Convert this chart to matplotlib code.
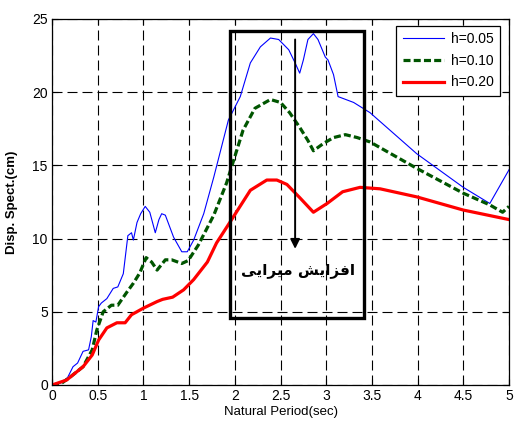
import matplotlib
matplotlib.use("Agg")
import matplotlib.pyplot as plt
from matplotlib.patches import Rectangle

plt.rcParams['font.family'] = ['Liberation Sans', 'DejaVu Sans']

# -------------------------------
# Data
# -------------------------------
x_005 = [0, 0.1, 0.17, 0.23, 0.28, 0.34, 0.40, 0.43, 0.45, 0.48, 0.51, 0.54, 0.6,
         0.67, 0.72, 0.78, 0.83, 0.87, 0.89, 0.93, 0.97, 1.02, 1.07, 1.13, 1.17,
         1.2, 1.24, 1.33, 1.42, 1.48, 1.55, 1.66, 1.77, 1.93, 2.06, 2.17, 2.28,
         2.39, 2.48, 2.59, 2.66, 2.71, 2.75, 2.80, 2.86, 2.91, 2.99, 3.02, 3.08,
         3.13, 3.30, 3.48, 3.99, 4.50, 4.79, 5.0]
y_005 = [0, 0.15, 0.5, 1.25, 1.5, 2.3, 2.4, 3.3, 4.4, 4.3, 5.35, 5.6, 5.9,
         6.6, 6.7, 7.6, 10.2, 10.4, 9.9, 11.1, 11.7, 12.2, 11.8, 10.4, 11.3,
         11.7, 11.6, 10.1, 9.1, 9.1, 9.9, 11.7, 14.2, 18.1, 19.7, 22.0, 23.1,
         23.7, 23.6, 22.9, 22.0, 21.3, 22.2, 23.6, 24.0, 23.6, 22.4, 22.2, 21.2,
         19.7, 19.3, 18.6, 15.8, 13.5, 12.4, 14.7]

x_010 = [0, 0.1, 0.2, 0.34, 0.44, 0.49, 0.56, 0.65, 0.72, 0.82, 0.89, 0.96, 1.03,
         1.09, 1.15, 1.24, 1.31, 1.42, 1.49, 1.6, 1.77, 1.91, 1.98, 2.09, 2.22,
         2.39, 2.5, 2.60, 2.71, 2.80, 2.86, 2.97, 3.08, 3.21, 3.34, 3.48, 3.99,
         4.50, 4.79, 4.93, 5.0]
y_010 = [0, 0.1, 0.55, 1.25, 2.4, 3.75, 5.0, 5.45, 5.45, 6.35, 6.95, 7.65, 8.7,
         8.4, 7.85, 8.55, 8.55, 8.3, 8.5, 9.55, 11.6, 13.8, 15.2, 17.4, 18.9,
         19.5, 19.3, 18.6, 17.6, 16.7, 16.0, 16.5, 16.9, 17.1, 16.9, 16.6, 14.8,
         13.1, 12.3, 11.8, 12.2]

x_020 = [0, 0.16, 0.34, 0.44, 0.51, 0.60, 0.71, 0.80, 0.87, 1.0, 1.15, 1.21, 1.32,
         1.44, 1.55, 1.70, 1.80, 1.95, 2.17, 2.35, 2.46, 2.57, 2.71, 2.86, 3.01,
         3.18, 3.37, 3.59, 3.99, 4.50, 5.0]
y_020 = [0, 0.34, 1.25, 2.05, 3.07, 3.9, 4.25, 4.25, 4.8, 5.25, 5.7, 5.85, 6.0,
         6.5, 7.2, 8.4, 9.7, 11.15, 13.3, 14.0, 14.0, 13.7, 12.8, 11.8, 12.4,
         13.2, 13.5, 13.4, 12.85, 11.95, 11.3]

labels = ["h=0.05", "h=0.10", "h=0.20"]

# annotation box / arrow (data units)
box_x = [1.95, 3.41]
box_y = [4.6, 24.2]
arrow_x = 2.66
arrow_y = [23.6, 9.3]

# Persian text "افزایش میرایی" in presentation forms, visual order
persian = "\uFBFD\uFBFE\uFE8D\uFEAE\uFBFF\uFEE3 \uFEB6\uFBFE\uFE8D\uFEB0\uFED3\uFE8D"

# -------------------------------
# Plot
# -------------------------------
fig = plt.figure(figsize=(5.14, 4.21), dpi=100)
ax = fig.add_axes([52 / 514, 36 / 421, 457 / 514, 366 / 421])

ax.plot(x_005, y_005, color='blue', lw=0.8, label=labels[0])
ax.plot(x_010, y_010, color='#005500', lw=2.3, ls=(0, (2.2, 1.0)), label=labels[1])
ax.plot(x_020, y_020, color='red', lw=2.3, label=labels[2])

ax.add_patch(Rectangle((box_x[0], box_y[0]), box_x[1] - box_x[0], box_y[1] - box_y[0],
                       fill=False, edgecolor='black', lw=2.4, zorder=5))
ax.annotate("", xy=(arrow_x, arrow_y[1]), xytext=(arrow_x, arrow_y[0]),
            arrowprops=dict(arrowstyle='-|>', color='black', lw=1.4,
                            mutation_scale=14, shrinkA=0, shrinkB=0), zorder=6)
ax.text(2.69, 7.8, persian, family=['DejaVu Sans'], fontweight='bold',
        fontsize=11, ha='center', va='center', zorder=6)

ax.set_xlim(0, 5)
ax.set_ylim(0, 25)
ax.set_xticks([0, 0.5, 1, 1.5, 2, 2.5, 3, 3.5, 4, 4.5, 5])
ax.set_xticklabels(['0', '0.5', '1', '1.5', '2', '2.5', '3', '3.5', '4', '4.5', '5'])
ax.set_yticks([0, 5, 10, 15, 20, 25])
ax.tick_params(direction='in', top=True, right=True, length=4, width=0.8,
               labelsize=10, pad=3)
ax.grid(True, color='black', lw=0.8, ls=(0, (9, 4.5)))
for s in ax.spines.values():
    s.set_linewidth(0.9)

ax.set_xlabel("Natural Period(sec)", fontsize=9.5, labelpad=2)
ax.set_ylabel("Disp. Spect.(cm)", fontsize=9.5, fontweight='bold', labelpad=10)

leg = ax.legend(loc='upper right', fontsize=10, handlelength=3.0, fancybox=False,
                framealpha=1, edgecolor='black', borderpad=0.45, labelspacing=0.55,
                handletextpad=0.5, borderaxespad=0,
                bbox_to_anchor=(0.981, 0.981))
leg.get_frame().set_linewidth(0.9)

fig.savefig("out.png", dpi=100)
